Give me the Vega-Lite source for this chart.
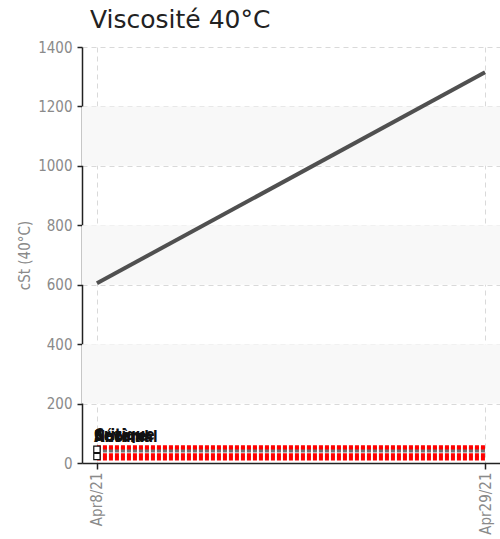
{
  "$schema": "https://vega.github.io/schema/vega-lite/v6.json",
  "width": 418,
  "height": 416,
  "autosize": "none",
  "padding": {"left": 82, "top": 47, "right": 0, "bottom": 76},
  "background": "white",
  "title": {
    "text": "Viscosité 40°C",
    "anchor": "start",
    "frame": "group",
    "font": "DejaVu Sans",
    "fontSize": 25,
    "fontWeight": "normal",
    "color": "#222222",
    "dx": 8,
    "offset": 7
  },
  "config": {
    "view": {"stroke": null},
    "axis": {
      "labelFont": "DejaVu Sans Condensed, DejaVu Sans",
      "labelFontSize": 15,
      "labelColor": "#8a8a8a",
      "titleFont": "DejaVu Sans Condensed, DejaVu Sans",
      "titleFontSize": 15,
      "titleFontWeight": "normal",
      "titleColor": "#8a8a8a",
      "domainColor": "#222222",
      "domainWidth": 1.5,
      "tickColor": "#222222",
      "tickWidth": 1.5,
      "gridColor": "#d9d9d9",
      "gridDash": [5, 4],
      "gridWidth": 1
    }
  },
  "datasets": {
    "bands": [
      {"low": 200, "high": 400},
      {"low": 600, "high": 800},
      {"low": 1000, "high": 1200}
    ],
    "mesures": [
      {"date": "2021-04-08T00:00:00", "cst": 605},
      {"date": "2021-04-29T00:00:00", "cst": 1315}
    ],
    "seuils": [
      {"niveau": "Normal", "valeur": 15, "kind": "seuil", "start": "2021-04-08T00:00:00", "end": "2021-04-29T00:00:00"},
      {"niveau": "Anormal", "valeur": 26, "kind": "seuil", "start": "2021-04-08T00:00:00", "end": "2021-04-29T00:00:00"},
      {"niveau": "Sévère", "valeur": 48, "kind": "seuil", "start": "2021-04-08T00:00:00", "end": "2021-04-29T00:00:00"},
      {"niveau": "Critique", "valeur": 53, "kind": "seuil", "start": "2021-04-08T00:00:00", "end": "2021-04-29T00:00:00"},
      {"niveau": "Réf", "valeur": 40, "kind": "cible", "start": "2021-04-08T00:00:00", "end": "2021-04-29T00:00:00"}
    ],
    "marqueurs": [
      {"date": "2021-04-08T00:00:00", "valeur": 46},
      {"date": "2021-04-08T00:00:00", "valeur": 22}
    ],
    "etiquettes": [
      {"date": "2021-04-08T00:00:00", "valeur": 60, "niveau": "Normal"},
      {"date": "2021-04-08T00:00:00", "valeur": 62, "niveau": "Anormal"},
      {"date": "2021-04-08T00:00:00", "valeur": 64, "niveau": "Sévère"},
      {"date": "2021-04-08T00:00:00", "valeur": 66, "niveau": "Critique"}
    ]
  },
  "layer": [
    {
      "data": {"name": "bands"},
      "mark": {"type": "rect", "color": "#f8f8f8"},
      "encoding": {
        "y": {
          "field": "low",
          "type": "quantitative",
          "scale": {"domain": [0, 1400], "nice": false},
          "axis": {
            "title": "cSt (40°C)",
            "values": [0, 200, 400, 600, 800, 1000, 1200, 1400],
            "format": "d",
            "tickSize": 5,
            "labelPadding": 5,
            "titlePadding": 5,
            "grid": true
          }
        },
        "y2": {"field": "high"}
      }
    },
    {
      "data": {"name": "mesures"},
      "mark": {"type": "line", "color": "#505050", "strokeWidth": 4},
      "encoding": {
        "x": {
          "field": "date",
          "type": "temporal",
          "scale": {
            "domain": [
              {"year": 2021, "month": 4, "date": 7, "hours": 4, "minutes": 36},
              {"year": 2021, "month": 4, "date": 29, "hours": 19, "minutes": 24}
            ],
            "nice": false
          },
          "axis": {
            "title": null,
            "values": [
              {"year": 2021, "month": 4, "date": 8},
              {"year": 2021, "month": 4, "date": 29}
            ],
            "format": "%b%-d/%y",
            "formatType": "time",
            "labelAngle": -90,
            "labelAlign": "right",
            "labelBaseline": "middle",
            "tickSize": 6,
            "labelPadding": 3,
            "grid": true
          }
        },
        "y": {"field": "cst", "type": "quantitative"}
      }
    },
    {
      "data": {"name": "seuils"},
      "mark": {"type": "rule", "strokeDash": [4, 2]},
      "encoding": {
        "x": {"field": "start", "type": "temporal"},
        "x2": {"field": "end"},
        "y": {"field": "valeur", "type": "quantitative"},
        "color": {
          "field": "kind",
          "type": "nominal",
          "scale": {"domain": ["seuil", "cible"], "range": ["#ff0000", "#707070"]},
          "legend": null
        },
        "strokeWidth": {
          "field": "kind",
          "type": "nominal",
          "scale": {"domain": ["seuil", "cible"], "range": [4, 3]},
          "legend": null
        }
      }
    },
    {
      "data": {"name": "etiquettes"},
      "mark": {"type": "text", "align": "left", "baseline": "bottom", "dx": -3, "font": "DejaVu Sans Condensed, DejaVu Sans", "fontSize": 15, "fontWeight": "bold", "color": "#111111"},
      "encoding": {
        "x": {"field": "date", "type": "temporal"},
        "y": {"field": "valeur", "type": "quantitative"},
        "text": {"field": "niveau"}
      }
    },
    {
      "data": {"name": "marqueurs"},
      "mark": {"type": "point", "shape": "square", "size": 40, "filled": true, "fill": "white", "stroke": "#111111", "strokeWidth": 1.2, "opacity": 1},
      "encoding": {
        "x": {"field": "date", "type": "temporal"},
        "y": {"field": "valeur", "type": "quantitative"}
      }
    }
  ]
}
